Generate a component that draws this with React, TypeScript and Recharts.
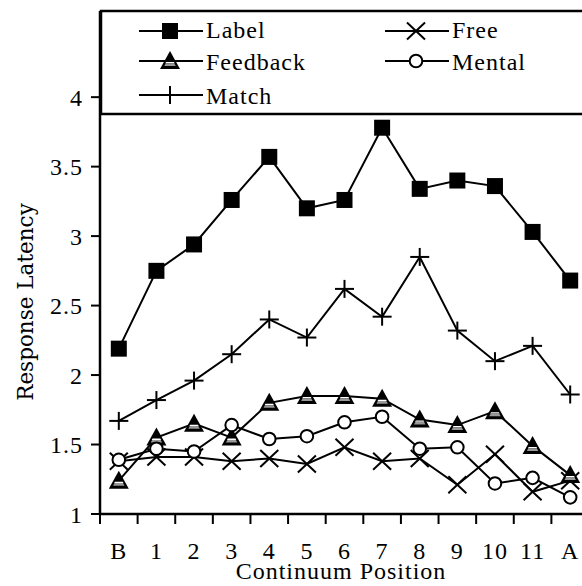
import React from "react";
import { LineChart, Line, XAxis, YAxis, Legend } from "recharts";

// continuum positions along the x axis
const categories = ["B", "1", "2", "3", "4", "5", "6", "7", "8", "9", "10", "11", "A"];

// response latency per condition
const labelRT = [2.19, 2.75, 2.94, 3.26, 3.57, 3.2, 3.26, 3.78, 3.34, 3.4, 3.36, 3.03, 2.68];
const freeRT = [1.38, 1.41, 1.41, 1.38, 1.4, 1.36, 1.48, 1.38, 1.4, 1.21, 1.43, 1.16, 1.24];
const feedbackRT = [1.24, 1.55, 1.65, 1.55, 1.8, 1.85, 1.85, 1.83, 1.68, 1.64, 1.74, 1.49, 1.28];
const mentalRT = [1.39, 1.47, 1.45, 1.64, 1.54, 1.56, 1.66, 1.7, 1.47, 1.48, 1.22, 1.26, 1.12];
const matchRT = [1.67, 1.82, 1.96, 2.15, 2.4, 2.27, 2.62, 2.42, 2.85, 2.32, 2.1, 2.21, 1.86];

const yTicks = [1, 1.5, 2, 2.5, 3, 3.5, 4];

// legend order (row by row, two columns)
const series = [
  { key: "label", name: "Label", shape: "square" },
  { key: "free", name: "Free", shape: "cross" },
  { key: "feedback", name: "Feedback", shape: "triangle" },
  { key: "mental", name: "Mental", shape: "circle" },
  { key: "match", name: "Match", shape: "plus" },
];

const data = categories.map((cat, i) => ({
  pos: i,
  cat,
  label: labelRT[i],
  free: freeRT[i],
  feedback: feedbackRT[i],
  mental: mentalRT[i],
  match: matchRT[i],
}));

// tick marks on band edges, labels on band centres
const xTicks = categories.flatMap((_, i) => [i - 0.5, i]).concat(categories.length - 0.5);

const serifStyle = { fontFamily: '"Liberation Serif", "Times New Roman", "DejaVu Serif", serif' };
const slabStyle = { fontFamily: '"DejaVu Serif", serif' };

function Marker({ shape, cx, cy }: { shape: string; cx: number; cy: number }) {
  if (cx == null || cy == null) return null;
  switch (shape) {
    case "square":
      return <rect x={cx - 8} y={cy - 8} width={16} height={16} fill="#000" />;
    case "circle":
      return <circle cx={cx} cy={cy} r={6.3} fill="#fff" stroke="#000" strokeWidth={2} />;
    case "cross":
      return (
        <g stroke="#000" strokeWidth={2}>
          <line x1={cx - 9} y1={cy - 8.5} x2={cx + 9} y2={cy + 8.5} />
          <line x1={cx - 9} y1={cy + 8.5} x2={cx + 9} y2={cy - 8.5} />
        </g>
      );
    case "plus":
      return (
        <g stroke="#000" strokeWidth={2}>
          <line x1={cx - 9.5} y1={cy} x2={cx + 9.5} y2={cy} />
          <line x1={cx} y1={cy - 9} x2={cx} y2={cy + 9} />
        </g>
      );
    case "triangle": {
      const top = cy - 10;
      const h = 18;
      const half = (y: number) => (10 * (y - top)) / h;
      const band = (y1: number, y2: number, inset: number) =>
        `${cx - half(y1) + inset},${y1} ${cx + half(y1) - inset},${y1} ${cx + half(y2) - inset},${y2} ${cx - half(y2) + inset},${y2}`;
      return (
        <g>
          <polygon points={`${cx},${top} ${cx + 10},${cy + 8} ${cx - 10},${cy + 8}`} fill="#000" />
          <polygon points={band(cy + 1, cy + 2.3, 2.2)} fill="#fff" />
          <polygon points={band(cy + 2.3, cy + 5, 2.6)} fill="#999" />
        </g>
      );
    }
    default:
      return null;
  }
}

const XTick = (props: any) => {
  const { x, y, payload } = props;
  const v = payload.value;
  if (Number.isInteger(v)) {
    return (
      <text x={x} y={y + 45} textAnchor="middle" style={serifStyle} fontSize={24} letterSpacing={1} fill="#000">
        {categories[v]}
      </text>
    );
  }
  return <line x1={x} y1={y} x2={x} y2={y + 10} stroke="#000" strokeWidth={2} />;
};

const legendCols = [139, 385];
const legendLineY = [31, 61, 95];
const legendTextY = [37.5, 69.5, 104];

const LegendBox = () => (
  <svg width={600} height={120} style={{ display: "block" }}>
    <rect x={101} y={11} width={600} height={103} fill="#fff" stroke="#000" strokeWidth={2.5} />
    {series.map((s, i) => {
      const x0 = legendCols[i % 2];
      const row = Math.floor(i / 2);
      const ly = legendLineY[row];
      return (
        <g key={s.key}>
          <line x1={x0} y1={ly} x2={x0 + 64} y2={ly} stroke="#000" strokeWidth={2} />
          <Marker shape={s.shape} cx={x0 + 31} cy={ly} />
          <text x={x0 + 67} y={legendTextY[row]} style={serifStyle} fontSize={24} letterSpacing={1} fill="#000">
            {s.name}
          </text>
        </g>
      );
    })}
  </svg>
);

const drawOrder = ["label", "match", "free", "feedback", "mental"];

export default function App() {
  return (
    <div
      style={{
        position: "absolute",
        left: 0,
        top: 0,
        width: 582,
        height: 586,
        overflow: "hidden",
        background: "#fff",
      }}
    >
      <LineChart width={600} height={586} data={data} margin={{ top: 11, right: 11, bottom: 0, left: 0 }}>
        <XAxis
          dataKey="pos"
          type="number"
          domain={[-0.5, categories.length - 0.5]}
          ticks={xTicks}
          interval={0}
          height={72}
          tickLine={false}
          tickSize={0}
          tickMargin={0}
          tick={<XTick />}
          axisLine={{ stroke: "#000", strokeWidth: 2.5 }}
          label={{
            value: "Continuum Position",
            content: () => (
              <text x={341} y={579} textAnchor="middle" style={serifStyle} fontSize={24} letterSpacing={1} fill="#000">
                Continuum Position
              </text>
            ),
          }}
        />
        <YAxis
          type="number"
          domain={[1, 4.62]}
          ticks={yTicks}
          interval={0}
          width={100}
          tickSize={9}
          tickMargin={8}
          tickLine={{ stroke: "#000", strokeWidth: 2 }}
          axisLine={{ stroke: "#000", strokeWidth: 2.5 }}
          tick={{ fill: "#000", fontSize: 24, letterSpacing: 1, style: serifStyle }}
          label={{
            value: "Response Latency",
            content: () => (
              <text
                transform="translate(33,302) rotate(-90)"
                textAnchor="middle"
                style={slabStyle}
                fontSize={21.5}
                fill="#000"
              >
                Response Latency
              </text>
            ),
          }}
        />
        <Legend
          verticalAlign="middle"
          align="center"
          layout="horizontal"
          wrapperStyle={{ left: 0, top: 0, width: 600, height: 120 }}
          content={() => <LegendBox />}
        />
        {drawOrder.map((k) => {
          const s = series.find((t) => t.key === k)!;
          return (
            <Line
              key={s.key}
              dataKey={s.key}
              name={s.name}
              stroke="#000"
              strokeWidth={2}
              isAnimationActive={false}
              activeDot={false}
              dot={(p: any) => <Marker key={`${s.key}-${p.index}`} shape={s.shape} cx={p.cx} cy={p.cy} />}
            />
          );
        })}
      </LineChart>
    </div>
  );
}
